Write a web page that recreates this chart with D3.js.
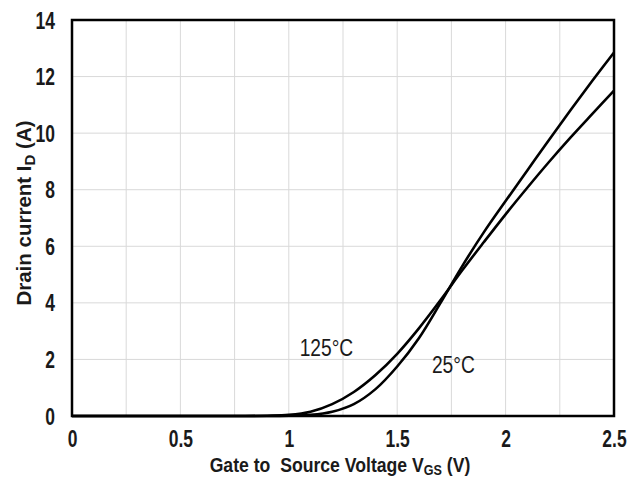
<!DOCTYPE html>
<html><head><meta charset="utf-8">
<script src="https://cdn.jsdelivr.net/npm/d3@7"></script>
<style>body{margin:0;background:#fff}svg{display:block}</style>
</head><body>
<svg id="c" width="629" height="493"></svg>
<script>
const vgs = [0,0.1,0.2,0.3,0.4,0.5,0.6,0.7,0.8,0.9,1.0,1.1,1.2,1.3,1.4,1.5,1.6,1.7,1.8,1.9,2.0,2.1,2.2,2.3,2.4,2.5];
const id125 = [0,0,0,0,0,0,0,0,0,0.01,0.04,0.15,0.42,0.85,1.45,2.2,3.1,4.1,5.15,6.15,7.13,8.07,8.98,9.85,10.68,11.5];
const id25  = [0,0,0,0,0,0,0,0,0,0,0.01,0.04,0.15,0.42,0.95,1.75,2.75,4.0,5.3,6.5,7.6,8.68,9.76,10.82,11.85,12.85];
const xTicks = [0,0.5,1,1.5,2,2.5];
const yTicks = [0,2,4,6,8,10,12,14];
const xGrid = [0.25,0.5,0.75,1,1.25,1.5,1.75,2,2.25];
const labels = [{t:"125°C", v:1.05, i:2.13},{t:"25°C", v:1.66, i:1.52}];

const svg = d3.select("#c");
const L=72, R=614, T=20, B=416;
const x = d3.scaleLinear().domain([0,2.5]).range([L,R]);
const y = d3.scaleLinear().domain([0,14]).range([B,T]);
const sans = "'Liberation Sans',Arial,sans-serif";
const ink = "#1a1a1a";

// grid
svg.append("g").selectAll("line").data(xGrid).join("line")
  .attr("x1",d=>x(d)).attr("x2",d=>x(d)).attr("y1",T).attr("y2",B)
  .attr("stroke","#d9d9d9").attr("stroke-width",1);
svg.append("g").selectAll("line").data(yTicks.slice(1,-1)).join("line")
  .attr("x1",L).attr("x2",R).attr("y1",d=>y(d)).attr("y2",d=>y(d))
  .attr("stroke","#d9d9d9").attr("stroke-width",1);

// axes via d3 axis, then narrow the tick labels
const xa = svg.append("g").attr("transform",`translate(0,${B})`)
  .call(d3.axisBottom(x).tickValues(xTicks).tickSize(0).tickFormat(d=>d3.format("")(d)));
const ya = svg.append("g").attr("transform",`translate(${L},0)`)
  .call(d3.axisLeft(y).tickValues(yTicks).tickSize(0));
[xa,ya].forEach(a=>a.select(".domain").remove());
xa.selectAll(".tick text").attr("x",null).attr("y",null).attr("dy",null)
  .attr("transform","translate(0,31) scale(0.76,1)")
  .attr("font-family",sans).attr("font-weight","bold").attr("font-size",23).attr("fill",ink).attr("text-anchor","middle");
ya.selectAll(".tick text").attr("x",null).attr("y",null).attr("dy",null)
  .attr("transform","translate(-17,8) scale(0.76,1)")
  .attr("font-family",sans).attr("font-weight","bold").attr("font-size",23).attr("fill",ink).attr("text-anchor","end");

// frame
svg.append("rect").attr("x",L).attr("y",T).attr("width",R-L).attr("height",B-T)
  .attr("fill","none").attr("stroke","#000").attr("stroke-width",2.5);

// curves
const line = d3.line().x((d,i)=>x(vgs[i])).y(d=>y(d)).curve(d3.curveCatmullRom.alpha(0.5));
[id125,id25].forEach(s=>{
  svg.append("path").datum(s).attr("d",line).attr("fill","none")
    .attr("stroke","#000").attr("stroke-width",2.6).attr("stroke-linejoin","round");
});

// labels
svg.append("g").selectAll("text").data(labels).join("text")
  .attr("transform",d=>`translate(${x(d.v)},${y(d.i)}) scale(0.8,1)`).text(d=>d.t)
  .attr("font-family",sans).attr("font-size",24).attr("fill",ink);

// axis titles
const xt = svg.append("text").attr("transform","translate(340,472) scale(0.84,1)").attr("text-anchor","middle")
  .attr("font-family",sans).attr("font-size",21).attr("font-weight","bold").attr("fill",ink);
xt.append("tspan").text("Gate to\u00a0 Source Voltage V");
xt.append("tspan").text("GS").attr("font-size",15).attr("dy",3);
xt.append("tspan").text(" (V)").attr("dy",-3);

const yt = svg.append("text").attr("transform","translate(31,213) rotate(-90)").attr("text-anchor","middle")
  .attr("font-family",sans).attr("font-size",20.5).attr("font-weight","bold").attr("fill",ink);
yt.append("tspan").text("Drain current I");
yt.append("tspan").text("D").attr("font-size",15).attr("dy",4);
yt.append("tspan").text(" (A)").attr("dy",-4);
</script>
</body></html>
